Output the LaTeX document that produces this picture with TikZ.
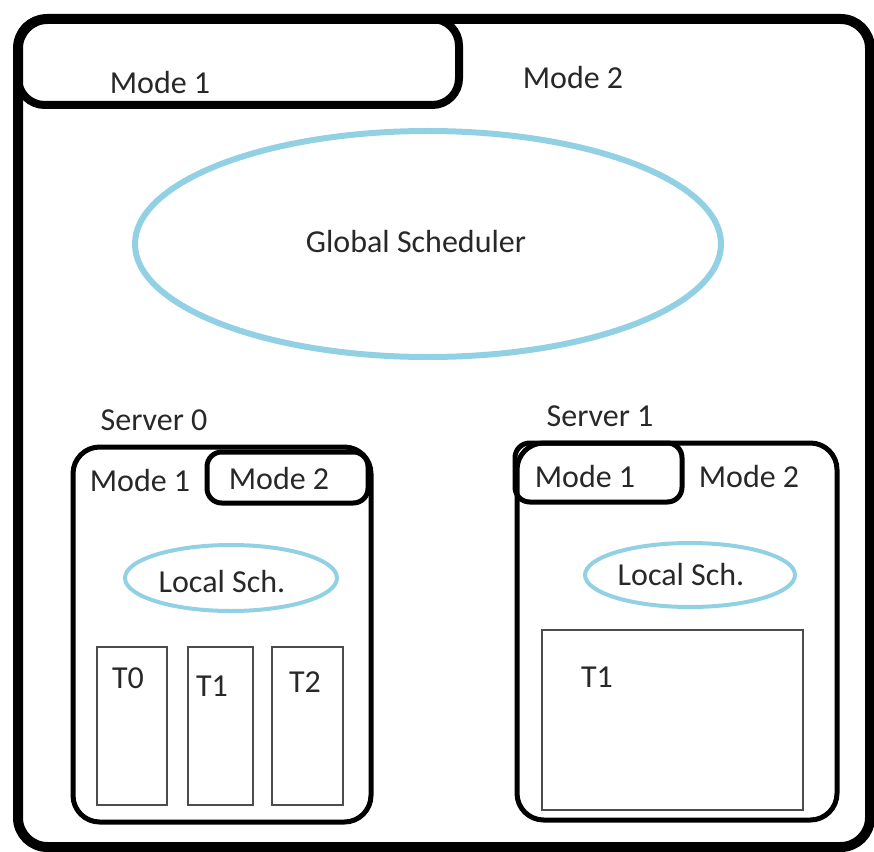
\documentclass[tikz,border=0pt]{standalone}
\usepackage{fontspec}
\setmainfont{Carlito}
\usepackage{tikz}
\usetikzlibrary{positioning}

\definecolor{schblue}{RGB}{146,208,228}
\definecolor{txtgray}{RGB}{40,40,40}

\begin{document}
\begin{tikzpicture}[
    x=0.75pt, y=-0.75pt,
    lab/.style={font=\fontsize{24}{28}\selectfont, text=txtgray, inner sep=0pt},
    outerbox/.style={draw, line width=7.5pt, rounded corners=22pt},
    toptab/.style={draw, line width=6pt, rounded corners=20pt},
    serverbox/.style={draw, line width=3.75pt, rounded corners=20pt},
    modetab/.style={draw, line width=3.75pt, rounded corners=11pt},
    sched/.style={draw=schblue, line width=4.5pt},
    localsched/.style={draw=schblue, line width=3pt},
    taskbox/.style={draw=black!70, line width=1.5pt},
]
\useasboundingbox (0,0) rectangle (874,852);

% outer system and its mode tabs
\draw[outerbox] (18,19) rectangle (870,847);
\draw[toptab] (18,19) rectangle (459,105);
\node[lab] (m1top) at (160,83) {Mode 1};
\node[lab] (m2top) at (573,78) {Mode 2};

% global scheduler
\draw[sched] (428,244) ellipse [x radius=293, y radius=113];
\node[lab] (gsched) at (416,242) {Global Scheduler};

% Server 0
\node[lab] (srv0) at (154,420) {Server 0};
\draw[serverbox] (73,447) rectangle (371,822);
\draw[modetab] (207,452) rectangle (368,503);
\node[lab] (s0m1) at (140,480) {Mode 1};
\node[lab] (s0m2) at (279,478) {Mode 2};
\draw[localsched] (231,578) ellipse [x radius=106, y radius=33];
\node[lab] (s0loc) at (222,582) {Local Sch.};
\draw[taskbox] (97,647) rectangle (167,805);
\draw[taskbox] (188,647) rectangle (253,805);
\draw[taskbox] (272,647) rectangle (343,805);
\node[lab] (t0) at (128,678) {T0};
\node[lab] (t1) at (212,686) {T1};
\node[lab] (t2) at (305,682) {T2};

% Server 1
\node[lab] (srv1) at (600,416) {Server 1};
\draw[serverbox] (517,443) rectangle (837,820);
\draw[modetab] (515,443) rectangle (682,502);
\node[lab] (s1m1) at (585,476) {Mode 1};
\node[lab] (s1m2) at (749,476) {Mode 2};
\draw[localsched] (690,575) ellipse [x radius=105, y radius=32];
\node[lab] (s1loc) at (681,575) {Local Sch.};
\draw[taskbox] (542,630) rectangle (803,810);
\node[lab] (s1t1) at (597,677) {T1};
\end{tikzpicture}
\end{document}
